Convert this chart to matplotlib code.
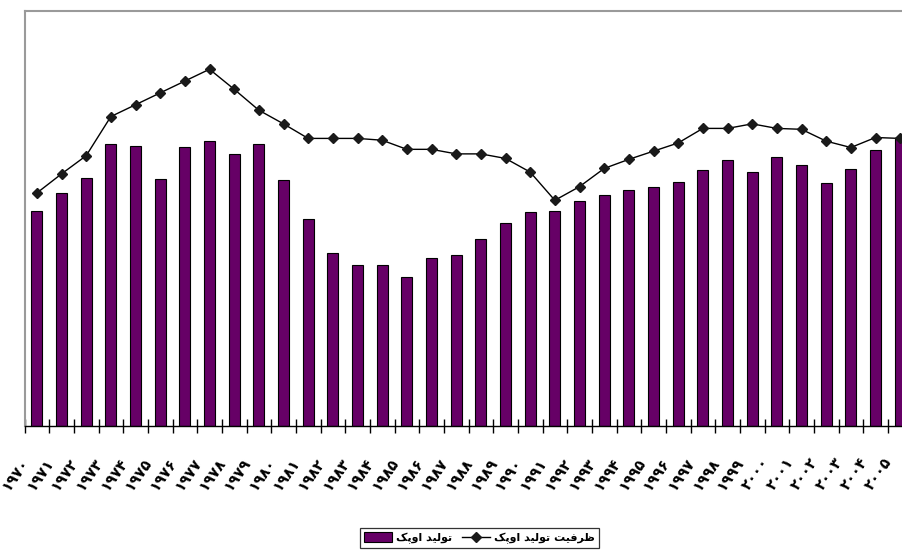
import matplotlib
matplotlib.use('Agg')
import matplotlib.pyplot as plt
from matplotlib.transforms import ScaledTranslation
from matplotlib.patches import Patch
from matplotlib.lines import Line2D

# ---------------- data ----------------
years = list(range(1970, 2006))
production = [23.6, 25.6, 27.3, 31.0, 30.8, 27.1, 30.7, 31.3, 29.9, 31.0,
              27.0, 22.7, 19.0, 17.7, 17.7, 16.4, 18.5, 18.8, 20.6, 22.3,
              23.5, 23.6, 24.7, 25.4, 25.9, 26.3, 26.8, 28.1, 29.2, 27.9,
              29.6, 28.7, 26.7, 28.2, 30.3, 31.6]
capacity = [25.6, 27.7, 29.7, 34.0, 35.3, 36.6, 37.9, 39.2, 37.0, 34.7,
            33.2, 31.6, 31.6, 31.6, 31.4, 30.4, 30.4, 29.9, 29.9, 29.4,
            27.9, 24.8, 26.3, 28.3, 29.3, 30.2, 31.1, 32.7, 32.7, 33.2,
            32.7, 32.6, 31.3, 30.6, 31.7, 31.6]
label_production = 'تولید اوپک'
label_capacity = 'ظرفیت تولید اوپک'

FA_DIGITS = '۰۱۲۳۴۵۶۷۸۹'
year_labels = [''.join(FA_DIGITS[int(d)] for d in str(y)) for y in years]

# ---------- minimal Arabic-script shaping (logical -> visual) ----------
FORMS = {  # iso, fin, ini, med
    'ت': ('\uFE95', '\uFE96', '\uFE97', '\uFE98'),
    'و': ('\uFEED', '\uFEEE', None, None),
    'ل': ('\uFEDD', '\uFEDE', '\uFEDF', '\uFEE0'),
    'ی': ('\uFBFC', '\uFBFD', '\uFBFE', '\uFBFF'),
    'د': ('\uFEA9', '\uFEAA', None, None),
    'ا': ('\uFE8D', '\uFE8E', None, None),
    'پ': ('\uFB56', '\uFB57', '\uFB58', '\uFB59'),
    'ک': ('\uFB8E', '\uFB8F', '\uFB90', '\uFB91'),
    'ظ': ('\uFEC5', '\uFEC6', '\uFEC7', '\uFEC8'),
    'ر': ('\uFEAD', '\uFEAE', None, None),
    'ف': ('\uFED1', '\uFED2', '\uFED3', '\uFED4'),
}


def shape(text):
    out = []
    for i, c in enumerate(text):
        if c not in FORMS:
            out.append(c)
            continue
        f = FORMS[c]
        prev = text[i - 1] if i > 0 else ''
        nxt = text[i + 1] if i + 1 < len(text) else ''
        pj = prev in FORMS and FORMS[prev][2] is not None
        nj = nxt in FORMS and f[2] is not None
        if pj and nj:
            out.append(f[3])
        elif pj:
            out.append(f[1])
        elif nj:
            out.append(f[2])
        else:
            out.append(f[0])
    return ''.join(out)[::-1]


# ---------------- figure ----------------
W, H = 902, 553
fig = plt.figure(figsize=(W / 100, H / 100), dpi=100)
ax_left, ax_right = 24.5, 912.5
ax_top, ax_bottom = 11, 426
ax = fig.add_axes([ax_left / W, 1 - ax_bottom / H,
                   (ax_right - ax_left) / W, (ax_bottom - ax_top) / H])

x = list(range(len(years)))
ax.bar(x, production, width=0.45, color='#660066', edgecolor='black',
       linewidth=0.8, zorder=2)
ax.plot(x, capacity, color='black', linewidth=1.0, marker='D',
        markersize=5, markerfacecolor='#1a1a1a', markeredgecolor='#1a1a1a',
        zorder=3)

ax.set_xlim(-0.5, len(years) - 0.5)
ax.set_ylim(0, 45.6)
ax.set_yticks([])

# boundary ticks (major) and centred labels (minor)
ax.set_xticks([i - 0.5 for i in range(len(years) + 1)])
ax.set_xticklabels([])
ax.tick_params(axis='x', which='major', direction='inout', length=10,
               width=1.0, color='black')
ax.set_xticks(x, minor=True)
ax.set_xticklabels(year_labels, minor=True, rotation=55, ha='right',
                   va='top', fontsize=10.5, fontweight='bold',
                   family=['DejaVu Sans'])
ax.tick_params(axis='x', which='minor', length=0, pad=21)
offset = ScaledTranslation(-5 / 100, 0, fig.dpi_scale_trans)
for lab in ax.get_xticklabels(minor=True):
    lab.set_transform(lab.get_transform() + offset)

for s in ['left', 'top']:
    ax.spines[s].set_color('#9a9a9a')
    ax.spines[s].set_linewidth(1.5)
ax.spines['right'].set_visible(False)
ax.spines['bottom'].set_color('black')
ax.spines['bottom'].set_linewidth(1.0)

handles = [Patch(facecolor='#660066', edgecolor='black', linewidth=0.8),
           Line2D([], [], color='black', linewidth=1.0, marker='D',
                  markersize=5, markerfacecolor='#1a1a1a',
                  markeredgecolor='#1a1a1a')]
leg = fig.legend(handles, [shape(label_production), shape(label_capacity)],
                 loc='center', bbox_to_anchor=(479.5 / W, 1 - 538 / H),
                 ncol=2, frameon=True, fancybox=False, shadow=False,
                 prop={'family': 'DejaVu Sans', 'weight': 'bold', 'size': 8},
                 handlelength=2.5, handleheight=1.0, handletextpad=0.4,
                 columnspacing=0.9, borderpad=0.35, borderaxespad=0)
leg.get_frame().set_edgecolor('black')
leg.get_frame().set_linewidth(0.9)

fig.savefig('out.png', dpi=100)
